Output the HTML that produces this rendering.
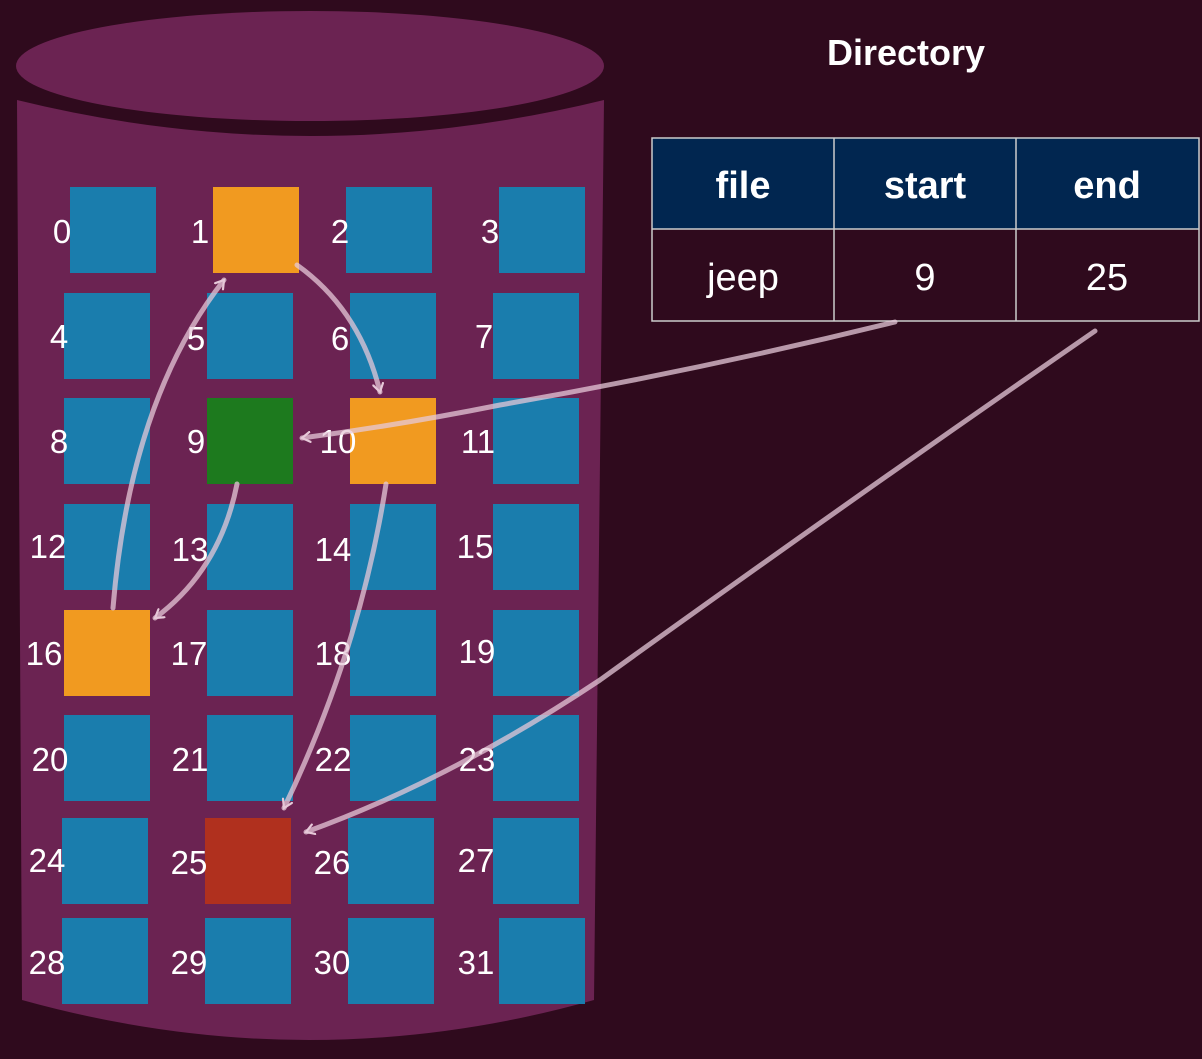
<!DOCTYPE html>
<html><head><meta charset="utf-8"><style>
body{margin:0;width:1202px;height:1059px;background:#2f0a1d;overflow:hidden;font-family:"Liberation Sans",sans-serif;}
svg{position:absolute;left:0;top:0}
</style></head><body>
<svg width="1202" height="1059" xmlns="http://www.w3.org/2000/svg">
<defs>
<marker id="ah" markerWidth="12" markerHeight="12" refX="9" refY="6" orient="auto" markerUnits="userSpaceOnUse" viewBox="0 0 12 12">
<path d="M1,1 L9,6 L1,11" fill="none" stroke="#e6c8d8" stroke-width="2.2" stroke-linecap="round"/>
</marker>
</defs>
<path d="M17,100 Q310,172 604,100 L594,1000 Q310,1080 22,1000 Z" fill="#6b2352"/>
<ellipse cx="310" cy="66" rx="294" ry="55" fill="#6b2352"/>
<g fill="#1a7dad">
<rect x="70" y="187" width="86" height="86"/><rect x="213" y="187" width="86" height="86" fill="#f19a20"/><rect x="346" y="187" width="86" height="86"/><rect x="499" y="187" width="86" height="86"/>
<rect x="64" y="293" width="86" height="86"/><rect x="207" y="293" width="86" height="86"/><rect x="350" y="293" width="86" height="86"/><rect x="493" y="293" width="86" height="86"/>
<rect x="64" y="398" width="86" height="86"/><rect x="207" y="398" width="86" height="86" fill="#1d7a1e"/><rect x="350" y="398" width="86" height="86" fill="#f19a20"/><rect x="493" y="398" width="86" height="86"/>
<rect x="64" y="504" width="86" height="86"/><rect x="207" y="504" width="86" height="86"/><rect x="350" y="504" width="86" height="86"/><rect x="493" y="504" width="86" height="86"/>
<rect x="64" y="610" width="86" height="86" fill="#f19a20"/><rect x="207" y="610" width="86" height="86"/><rect x="350" y="610" width="86" height="86"/><rect x="493" y="610" width="86" height="86"/>
<rect x="64" y="715" width="86" height="86"/><rect x="207" y="715" width="86" height="86"/><rect x="350" y="715" width="86" height="86"/><rect x="493" y="715" width="86" height="86"/>
<rect x="62" y="818" width="86" height="86"/><rect x="205" y="818" width="86" height="86" fill="#b0301e"/><rect x="348" y="818" width="86" height="86"/><rect x="493" y="818" width="86" height="86"/>
<rect x="62" y="918" width="86" height="86"/><rect x="205" y="918" width="86" height="86"/><rect x="348" y="918" width="86" height="86"/><rect x="499" y="918" width="86" height="86"/>
</g>
<g fill="#fff" font-size="33" text-anchor="middle">
<text x="62" y="243">0</text><text x="200" y="243">1</text><text x="340" y="243">2</text><text x="490" y="243">3</text>
<text x="59" y="348">4</text><text x="196" y="350">5</text><text x="340" y="350">6</text><text x="484" y="348">7</text>
<text x="59" y="453">8</text><text x="196" y="453">9</text><text x="338" y="453">10</text><text x="478" y="453">11</text>
<text x="48" y="558">12</text><text x="190" y="561">13</text><text x="333" y="561">14</text><text x="475" y="558">15</text>
<text x="44" y="665">16</text><text x="189" y="665">17</text><text x="333" y="665">18</text><text x="477" y="663">19</text>
<text x="50" y="771">20</text><text x="190" y="771">21</text><text x="333" y="771">22</text><text x="477" y="771">23</text>
<text x="47" y="872">24</text><text x="189" y="874">25</text><text x="332" y="874">26</text><text x="476" y="872">27</text>
<text x="47" y="974">28</text><text x="189" y="974">29</text><text x="332" y="974">30</text><text x="476" y="974">31</text>
</g>
<text x="906" y="65" fill="#fff" font-size="36" font-weight="bold" text-anchor="middle">Directory</text>
<rect x="652" y="138" width="547" height="91" fill="#012650"/>
<g stroke="#ccc" stroke-width="1.5" fill="none">
<rect x="652" y="138" width="547" height="183"/>
<line x1="652" y1="229" x2="1199" y2="229"/><line x1="834" y1="138" x2="834" y2="321"/><line x1="1016" y1="138" x2="1016" y2="321"/>
</g>
<g fill="#fff" font-size="38" text-anchor="middle">
<text x="743" y="198" font-weight="bold">file</text><text x="925" y="198" font-weight="bold">start</text><text x="1107" y="198" font-weight="bold">end</text>
<text x="743" y="290">jeep</text><text x="925" y="290">9</text><text x="1107" y="290">25</text>
</g>
<g fill="none" stroke="#e6c8d8" stroke-opacity="0.75" stroke-width="5" stroke-linecap="round" marker-end="url(#ah)">
<path d="M895,322 Q700,370 500,405 Q400,425 302,438"/>
<path d="M1095,331 Q850,500 600,680 Q450,780 306,832"/>
<path d="M237,484 Q220,570 155,618"/>
<path d="M113,608 Q130,400 224,280"/>
<path d="M297,265 Q360,310 380,392"/>
<path d="M386,484 Q360,650 284,808"/>
</g>
</svg>
</body></html>
